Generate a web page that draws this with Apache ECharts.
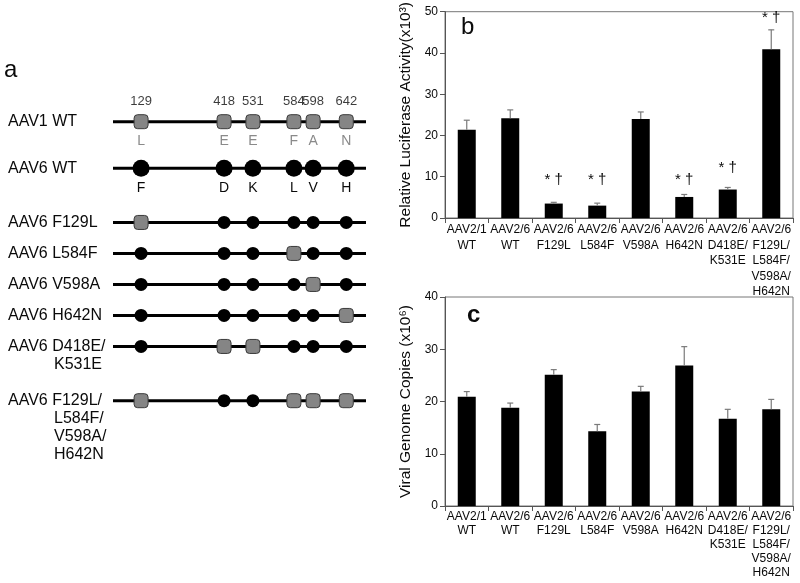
<!DOCTYPE html>
<html><head><meta charset="utf-8">
<script src="https://cdn.jsdelivr.net/npm/echarts@6/dist/echarts.min.js"></script>
<style>html,body{margin:0;padding:0;background:#fff}#c{width:800px;height:583px}</style>
</head><body><div id="c"></div>
<script>
// ---------- Panel a : schematic ----------
const siteNumbers = ['129', '418', '531', '584', '598', '642'];
const sitePositions = [11.1, 43.9, 55.3, 71.5, 79.1, 92.2]; // schematic slot along the capsid line (0-100)
const aav1Residues = ['L', 'E', 'E', 'F', 'A', 'N'];
const aav6Residues = ['F', 'D', 'K', 'L', 'V', 'H'];
const constructNames = [
  ['AAV1 WT'], ['AAV6 WT'], ['AAV6 F129L'], ['AAV6 L584F'], ['AAV6 V598A'],
  ['AAV6 H642N'], ['AAV6 D418E/', 'K531E'], ['AAV6 F129L/', 'L584F/', 'V598A/', 'H642N']
];
const constructRows = [0, 1.5, 3.25, 4.25, 5.25, 6.25, 7.25, 9];
// S = AAV1 residue (grey square), C = AAV6 residue (black circle)
const constructSites = ['SSSSSS', 'CCCCCC', 'SCCCCC', 'CCCSCC', 'CCCCSC', 'CCCCCS', 'CSSCCC', 'SCCSSS'];

// ---------- Panels b & c ----------
const categories = ['AAV2/1\nWT', 'AAV2/6\nWT', 'AAV2/6\nF129L', 'AAV2/6\nL584F', 'AAV2/6\nV598A',
  'AAV2/6\nH642N', 'AAV2/6\nD418E/\nK531E', 'AAV2/6\nF129L/\nL584F/\nV598A/\nH642N'];
const luciferase = [21.4, 24.2, 3.5, 3.0, 24.0, 5.1, 6.9, 40.9];
const luciferaseErr = [2.3, 2.0, 0.3, 0.6, 1.7, 0.6, 0.5, 4.7];
const sigMarks = ['', '', '* †', '* †', '', '* †', '* †', '* †'];
const sigY = [null, null, 9.2, 9.2, null, 9.2, 12.2, 48.5];
const genome = [20.9, 18.8, 25.1, 14.3, 21.9, 26.9, 16.7, 18.5];
const genomeErr = [1.0, 0.9, 1.0, 1.3, 1.0, 3.6, 1.8, 1.9];

const FONT = '"Liberation Sans", Arial, sans-serif';
const TXT = '#0a0a0a';

// ----- build panel a series -----
const lineSeries = constructRows.map(r => ({
  type: 'line', xAxisIndex: 0, yAxisIndex: 0, silent: true, showSymbol: false, symbol: 'none',
  data: [[0, r], [100, r]], lineStyle: { color: '#000', width: 3 }, z: 2, animation: false
}));

const siteData = [];
constructSites.forEach((pattern, ri) => {
  pattern.split('').forEach((t, si) => {
    const isSq = t === 'S';
    const pt = {
      value: [sitePositions[si], constructRows[ri]],
      symbol: isSq ? 'roundRect' : 'circle',
      symbolSize: isSq ? 14 : (ri === 1 ? 17 : 13),
      itemStyle: isSq ? { color: '#858585', borderColor: '#3a3a3a', borderWidth: 1, opacity: 1 } : { color: '#000', opacity: 1 }
    };
    if (ri === 0 || ri === 1) {
      pt.label = {
        show: true, position: 'inside', offset: [0, 19.5],
        formatter: ri === 0 ? aav1Residues[si] : aav6Residues[si],
        color: ri === 0 ? '#8a8a8a' : TXT, fontSize: 14, fontFamily: FONT
      };
    }
    siteData.push(pt);
  });
});

const siteNumberSeries = {
  type: 'scatter', xAxisIndex: 0, yAxisIndex: 0, silent: true, symbolSize: 0,
  data: siteNumbers.map((n, i) => ({ value: [sitePositions[i], constructRows[0]], name: n })),
  label: { show: true, position: 'inside', offset: [0, -20], formatter: p => p.name, color: TXT, fontSize: 13, fontFamily: FONT },
  z: 5, animation: false
};

const rowLabelSeries = {
  type: 'custom', coordinateSystem: 'cartesian2d', xAxisIndex: 0, yAxisIndex: 0, silent: true,
  data: constructRows.map(r => [0, r]),
  renderItem: (params, api) => {
    const y = api.coord([0, api.value(1)])[1];
    const lines = constructNames[params.dataIndex];
    return {
      type: 'group',
      children: lines.map((t, k) => ({
        type: 'text',
        style: { text: t, x: k === 0 ? 8 : 54, y: y + k * 18, align: 'left', verticalAlign: 'middle', font: '16px ' + FONT, fill: TXT }
      }))
    };
  }, animation: false
};

// ----- bar chart helpers -----
function errorSeries(xi, vals, errs) {
  return {
    type: 'custom', xAxisIndex: xi, yAxisIndex: xi, silent: true, z: 4,
    data: vals.map((v, i) => [i, v, errs[i]]),
    renderItem: (params, api) => {
      const x = api.value(0), v = api.value(1), e = api.value(2);
      const p0 = api.coord([x, v]);
      const p1 = api.coord([x, v + e]);
      const st = { stroke: '#7a7a7a', lineWidth: 1.2 };
      return {
        type: 'group', children: [
          { type: 'line', shape: { x1: p0[0], y1: p0[1], x2: p1[0], y2: p1[1] }, style: st },
          { type: 'line', shape: { x1: p1[0] - 3, y1: p1[1], x2: p1[0] + 3, y2: p1[1] }, style: st }
        ]
      };
    }, animation: false
  };
}

const sigSeries = {
  type: 'custom', xAxisIndex: 1, yAxisIndex: 1, silent: true, z: 5,
  data: sigY.map((y, i) => y == null ? null : [i, y, i]).filter(d => d),
  renderItem: (params, api) => {
    const p = api.coord([api.value(0), api.value(1)]);
    return {
      type: 'text',
      style: { text: sigMarks[api.value(2)], x: p[0], y: p[1], align: 'center', verticalAlign: 'middle', font: '15px ' + FONT, fill: TXT }
    };
  }, animation: false
};

function catAxis(gi, lh) {
  return {
    gridIndex: gi, type: 'category', data: categories,
    axisLine: { show: true, lineStyle: { color: '#555', width: 1 } },
    axisTick: { show: true, length: 5, inside: false, lineStyle: { color: '#555' } },
    axisLabel: { interval: 0, fontSize: 12, lineHeight: lh, margin: 4, color: TXT, fontFamily: FONT }
  };
}
function valAxis(gi, max, name) {
  return {
    gridIndex: gi, type: 'value', min: 0, max: max, interval: 10, name: name,
    nameLocation: 'middle', nameGap: 31, nameRotate: 90,
    nameTextStyle: { fontSize: 15.5, color: TXT, fontFamily: FONT },
    axisLine: { show: true, lineStyle: { color: '#555', width: 1 } },
    axisTick: { show: true, length: 5, lineStyle: { color: '#555' } },
    splitLine: { show: false },
    axisLabel: { fontSize: 12, margin: 7, color: TXT, fontFamily: FONT }
  };
}

const option = {
  backgroundColor: '#fff',
  animation: false,
  grid: [
    { left: 113, width: 253, top: 90.7, height: 341, show: false },
    { left: 445, right: 7, top: 10, height: 208, show: true, borderColor: '#777', borderWidth: 1 },
    { left: 445, right: 7, top: 297, height: 209, show: true, borderColor: '#777', borderWidth: 1 }
  ],
  xAxis: [
    { gridIndex: 0, type: 'value', min: 0, max: 100, show: false },
    catAxis(1, 15.5),
    catAxis(2, 14)
  ],
  yAxis: [
    { gridIndex: 0, type: 'value', min: -1, max: 10, inverse: true, show: false },
    valAxis(1, 50, 'Relative Luciferase Activity(x10³)'),
    valAxis(2, 40, 'Viral Genome Copies (x10⁶)')
  ],
  graphic: [
    { type: 'text', left: 4, top: 58, style: { text: 'a', font: '24px ' + FONT, fill: TXT } },
    { type: 'text', left: 461, top: 15, style: { text: 'b', font: '24px ' + FONT, fill: TXT } },
    { type: 'text', left: 467, top: 303, style: { text: 'c', font: 'bold 24px ' + FONT, fill: TXT } }
  ],
  series: [
    ...lineSeries,
    {
      type: 'scatter', xAxisIndex: 0, yAxisIndex: 0, silent: true, data: siteData, z: 3, animation: false,
      itemStyle: { opacity: 1 }
    },
    siteNumberSeries,
    rowLabelSeries,
    { type: 'bar', xAxisIndex: 1, yAxisIndex: 1, data: luciferase, barWidth: 18, itemStyle: { color: '#000' }, silent: true },
    errorSeries(1, luciferase, luciferaseErr),
    sigSeries,
    { type: 'bar', xAxisIndex: 2, yAxisIndex: 2, data: genome, barWidth: 18, itemStyle: { color: '#000' }, silent: true },
    errorSeries(2, genome, genomeErr)
  ]
};
const chart = echarts.init(document.getElementById('c'), null, { renderer: 'canvas' });
chart.setOption(option);
</script>
</body></html>
